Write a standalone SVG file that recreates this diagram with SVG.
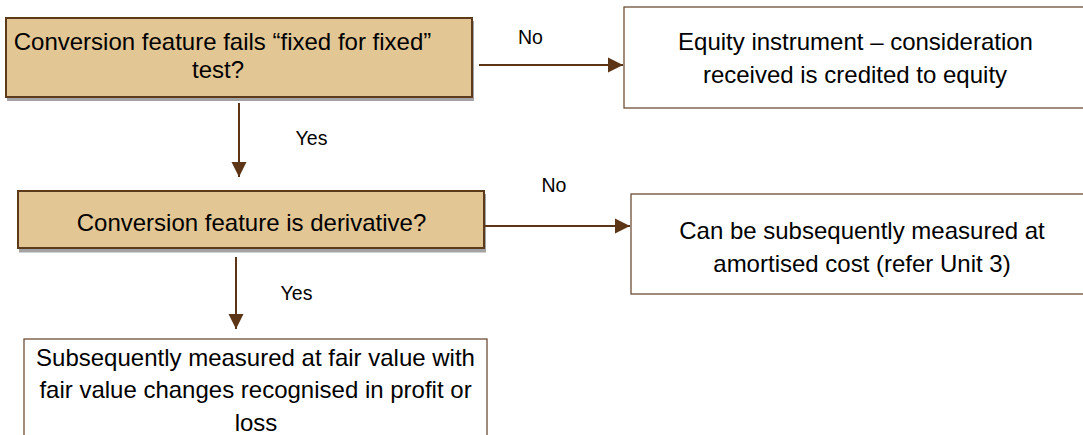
<svg xmlns="http://www.w3.org/2000/svg" width="1083" height="435" viewBox="0 0 1083 435">
  <defs>
    <marker id="arr" markerUnits="userSpaceOnUse" markerWidth="16" markerHeight="16" viewBox="0 0 16 16" refX="15" refY="8" orient="auto">
      <path d="M0,0.5 L15,8 L0,15.5 Z" fill="#5C3516"/>
    </marker>
    <style>
      .dec { fill: #E2C795; stroke: #5C3A1C; stroke-width: 2; }
      .shadow { fill: #A3A3A3; }
      .out { fill: #FFFFFF; stroke: #6E4E36; stroke-width: 1.3; }
      .t { font-family: "Liberation Sans", Arial, sans-serif; font-size: 24px; fill: #000; text-anchor: middle; }
      .lbl { font-family: "Liberation Sans", Arial, sans-serif; font-size: 19.5px; fill: #000; text-anchor: middle; }
      .conn { stroke: #5C3516; stroke-width: 2; fill: none; marker-end: url(#arr); }
    </style>
  </defs>
  <rect width="1083" height="435" fill="#FFFFFF"/>

  <g id="node-fixed-test">
    <rect class="shadow" x="7" y="21" width="467" height="80"/>
    <rect class="dec" x="6" y="18" width="466" height="79"/>
    <text class="t" x="222.5" y="50">Conversion feature fails “fixed for fixed”</text>
    <text class="t" x="218" y="78">test?</text>
  </g>

  <g id="node-equity">
    <rect class="out" x="624" y="7" width="470" height="101"/>
    <text class="t" x="855.5" y="50">Equity instrument – consideration</text>
    <text class="t" x="855" y="82.5">received is credited to equity</text>
  </g>

  <g id="node-derivative">
    <rect class="shadow" x="19" y="194" width="467" height="58.5"/>
    <rect class="dec" x="18" y="191" width="466" height="57"/>
    <text class="t" x="251.5" y="231">Conversion feature is derivative?</text>
  </g>

  <g id="node-amortised">
    <rect class="out" x="631" y="194" width="470" height="100"/>
    <text class="t" x="862" y="239">Can be subsequently measured at</text>
    <text class="t" x="862" y="271.5">amortised cost (refer Unit 3)</text>
  </g>

  <g id="node-fair-value">
    <rect class="out" x="24" y="339" width="463" height="110"/>
    <text class="t" x="255.5" y="365.5">Subsequently measured at fair value with</text>
    <text class="t" x="255.5" y="398">fair value changes recognised in profit or</text>
    <text class="t" x="256" y="430.5">loss</text>
  </g>

  <g id="connectors">
    <line class="conn" x1="479" y1="65" x2="623" y2="65"/>
    <line class="conn" x1="239" y1="103" x2="239" y2="177"/>
    <line class="conn" x1="485" y1="226" x2="630" y2="226"/>
    <line class="conn" x1="236" y1="257" x2="236" y2="329"/>
    <text class="lbl" x="530.5" y="44">No</text>
    <text class="lbl" x="311.5" y="145">Yes</text>
    <text class="lbl" x="554" y="192">No</text>
    <text class="lbl" x="296.5" y="300">Yes</text>
  </g>
</svg>
